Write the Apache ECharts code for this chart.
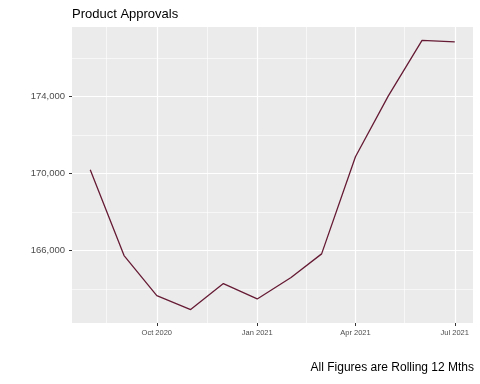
<!DOCTYPE html>
<html><head><meta charset="utf-8">
<script src="https://cdn.jsdelivr.net/npm/echarts@6/dist/echarts.min.js"></script>
<style>html,body{margin:0;padding:0;background:#fff}#c{width:480px;height:384px}</style>
</head><body><div id="c"></div>
<script>
var months = ['2020-08-01','2020-09-01','2020-10-01','2020-11-01','2020-12-01','2021-01-01','2021-02-01','2021-03-01','2021-04-01','2021-05-01','2021-06-01','2021-07-01'];
var approvals = [170200,165740,163660,162940,164290,163490,164600,165830,170870,174020,176910,176840];
var xTickDates = ['2020-10-01','2021-01-01','2021-04-01','2021-07-01'];
var xTickLabels = ['Oct 2020','Jan 2021','Apr 2021','Jul 2021'];
var yTicks = [166000,170000,174000];
var yTickLabels = ['166,000','170,000','174,000'];
var yMinor = [164000,168000,172000,176000];
var xMinorDates = ['2020-08-16','2020-11-16','2021-02-15','2021-05-16'];

function ts(s){var p=s.split('-');return Date.UTC(+p[0],+p[1]-1,+p[2]);}
var data = months.map(function(m,i){return [ts(m),approvals[i]];});
var xs = data.map(function(d){return d[0];});
var xMin0 = Math.min.apply(null,xs), xMax0 = Math.max.apply(null,xs);
var xPad = (xMax0-xMin0)*0.05;
var yMin0 = Math.min.apply(null,approvals), yMax0 = Math.max.apply(null,approvals);
var yPad = (yMax0-yMin0)*0.05;
var xTickTs = xTickDates.map(ts);

var gridLines = [];
yMinor.forEach(function(v){gridLines.push({yAxis:v,lineStyle:{width:0.6}});});
xMinorDates.forEach(function(d){gridLines.push({xAxis:ts(d),lineStyle:{width:0.6}});});
yTicks.forEach(function(v){gridLines.push({yAxis:v,lineStyle:{width:1.2}});});
xTickTs.forEach(function(v){gridLines.push({xAxis:v,lineStyle:{width:1.2}});});

var chart = echarts.init(document.getElementById('c'),null,{renderer:'canvas'});
var font = 'Liberation Sans, Arial, sans-serif';
chart.setOption({
  animation:false,
  backgroundColor:'#ffffff',
  title:[{text:'Product Approvals',left:72,top:8,padding:0,textStyle:{fontFamily:font,fontSize:13,fontWeight:'normal',color:'#000'}},
         {text:'All Figures are Rolling 12 Mths',right:6,top:362,padding:0,textStyle:{fontFamily:font,fontSize:12,fontWeight:'normal',color:'#000'}}],
  grid:{left:72,right:7,top:27,bottom:61,show:true,backgroundColor:'#EBEBEB',borderWidth:0,containLabel:false},
  xAxis:{type:'value',min:xMin0-xPad,max:xMax0+xPad,
    axisLine:{show:false},splitLine:{show:false},
    axisTick:{show:true,length:3,lineStyle:{color:'#333',width:1},customValues:xTickTs},
    axisLabel:{show:true,customValues:xTickTs,fontFamily:font,fontSize:7.5,color:'#4D4D4D',margin:6,
      formatter:function(v){var i=xTickTs.indexOf(v);return i>=0?xTickLabels[i]:'';}}},
  yAxis:{type:'value',min:yMin0-yPad,max:yMax0+yPad,
    axisLine:{show:false},splitLine:{show:false},
    axisTick:{show:true,length:3,lineStyle:{color:'#333',width:1},customValues:yTicks},
    axisLabel:{show:true,customValues:yTicks,fontFamily:font,fontSize:9.5,color:'#4D4D4D',margin:7,
      formatter:function(v){var i=yTicks.indexOf(v);return i>=0?yTickLabels[i]:'';}}},
  series:[
    {type:'line',data:data,z:1,showSymbol:false,lineStyle:{width:0,opacity:0},silent:true,
     markLine:{silent:true,symbol:'none',label:{show:false},lineStyle:{color:'#ffffff',type:'solid'},data:gridLines,animation:false}},
    {type:'line',data:data,z:5,showSymbol:false,lineStyle:{color:'#661B35',width:1.3},silent:true}
  ]
});
</script></body></html>
